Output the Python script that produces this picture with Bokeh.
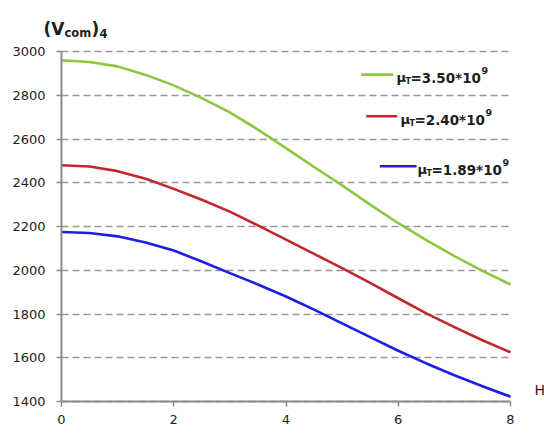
from bokeh.plotting import figure
from bokeh.models import Range1d, FixedTicker, Label
from bokeh.embed import file_html
from bokeh.resources import INLINE

# ---- data ----
h_vals = [0, 0.5, 1, 1.5, 2, 2.5, 3, 3.5, 4, 4.5, 5, 5.5, 6, 6.5, 7, 7.5, 8]
green_vals = [2960, 2952, 2932, 2893, 2845, 2787, 2722, 2643, 2558, 2472, 2388, 2300, 2215, 2138, 2065, 1997, 1935]
red_vals = [2480, 2474, 2453, 2418, 2372, 2322, 2268, 2205, 2140, 2075, 2010, 1942, 1872, 1803, 1740, 1680, 1625]
blue_vals = [2175, 2170, 2155, 2127, 2090, 2040, 1987, 1935, 1880, 1820, 1757, 1694, 1632, 1574, 1520, 1470, 1422]
series_mu = ["3.50", "2.40", "1.89"]
x_ticks = [0, 2, 4, 6, 8]
y_ticks = [1400, 1600, 1800, 2000, 2200, 2400, 2600, 2800, 3000]

XMIN, XMAX = 0, 8
YMIN, YMAX = 1400, 3000

GREEN = "#8DC63F"
RED = "#C0282D"
BLUE = "#1E1EE6"
FONT = "DejaVu Sans"
TXT = "#1e1e1e"

W, H = 544, 433
# pixel positions of the plotting area inside the canvas
PL, PT, PR, PB = 61, 51, 510, 401
sx = (PR - PL) / (XMAX - XMIN)
sy = (PB - PT) / (YMAX - YMIN)

# the frame covers the whole canvas; the axes are pinned at x=0 and y=1400
p = figure(width=W, height=H, output_backend="svg", toolbar_location=None,
           x_range=Range1d(XMIN - PL / sx, XMAX + (W - PR) / sx),
           y_range=Range1d(YMIN - (H - PB) / sy, YMAX + PT / sy),
           min_border_left=0, min_border_right=0,
           min_border_top=0, min_border_bottom=0)
p.outline_line_color = None
p.background_fill_color = "white"
p.border_fill_color = "white"

# grid
p.xgrid.visible = False
yg = p.ygrid[0]
yg.ticker = FixedTicker(ticks=y_ticks)
yg.grid_line_color = "#979797"
yg.grid_line_width = 1.6
yg.grid_line_dash = "7 4"
yg.bounds = (YMIN, YMAX)
if "cross_bounds" in yg.properties():
    yg.cross_bounds = (XMIN, XMAX)
else:
    yg.visible = False
    p.segment(x0=[XMIN] * len(y_ticks), y0=y_ticks, x1=[XMAX] * len(y_ticks), y1=y_ticks,
              line_color="#979797", line_width=1.6, line_dash="7 4")

# axes
for ax in (p.xaxis[0], p.yaxis[0]):
    ax.axis_line_color = "#8a8a8a"
    ax.axis_line_width = 2
    ax.major_tick_line_color = "#8a8a8a"
    ax.major_tick_line_width = 1.5
    ax.major_tick_in = 0
    ax.major_tick_out = 5
    ax.minor_tick_line_color = None
    ax.major_label_text_font = FONT
    ax.major_label_text_font_size = "13px"
    ax.major_label_text_color = TXT
p.xaxis.ticker = FixedTicker(ticks=x_ticks)
p.yaxis.ticker = FixedTicker(ticks=y_ticks)
p.xaxis.fixed_location = YMIN
p.yaxis.fixed_location = XMIN
p.xaxis.bounds = (XMIN, XMAX)
p.yaxis.bounds = (YMIN, YMAX)
p.xaxis.major_label_standoff = 8
p.yaxis.major_label_standoff = 11

# curves
for vals, col in ((green_vals, GREEN), (red_vals, RED), (blue_vals, BLUE)):
    p.line(h_vals, vals, line_color=col, line_width=2.6, line_join="round")


def dx(px):
    return XMIN + (px - PL) / sx


def dy(py):
    return YMAX - (py - PT) / sy


def lab(text, px, py, size, bold=True, color=TXT):
    # screen units are measured from the frame's (= canvas's) bottom-left corner
    p.add_layout(Label(text=text, x=px, y=H - py,
                       x_units="screen", y_units="screen", level="overlay",
                       text_font=FONT, text_font_size=f"{size}px",
                       text_font_style="bold" if bold else "normal",
                       text_color=color, text_align="left",
                       text_baseline="alphabetic"))


# y-axis title (V_com)_4
lab("(V", 43, 28.5, 17)
lab("com", 64, 32.5, 11.5)
lab(")", 91, 28.5, 17)
lab("4", 99, 32.5, 11.5)

# x-axis title (cut at the right edge in the reference)
lab("H", 534, 389, 14, bold=False)

# custom legend
legend_pos = [  # (line x0, line x1, mu x, baseline)
    (360.7, 392.7, 396.0, 77.3),
    (365.7, 396.7, 400.0, 119.0),
    (379.3, 416.0, 417.0, 169.0),
]
for (x0, x1, mx, b), col, mu in zip(legend_pos, (GREEN, RED, BLUE), series_mu):
    p.line([dx(x0), dx(x1)], [dy(b - 3.2), dy(b - 3.2)], line_color=col, line_width=2.6)
    lab("\u03bc", mx, b, 13)
    lab("T", mx + 9, b + 4, 8)
    lab(f"={mu}*10", mx + 14, b, 13.5)
    lab("9", mx + 85, b - 7.3, 9.5)

open("out.html", "w").write(file_html(p, INLINE))
